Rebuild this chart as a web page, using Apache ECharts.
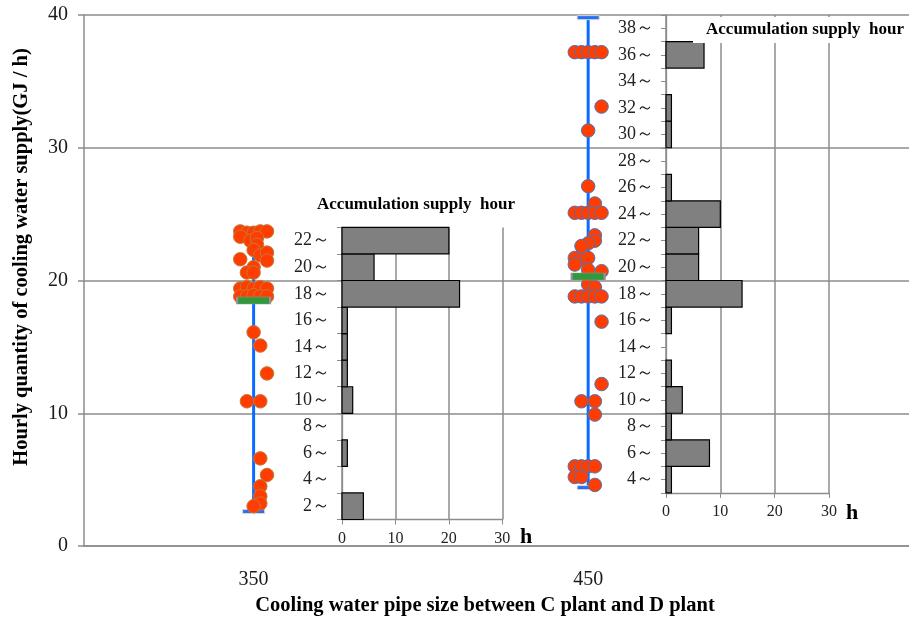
<!DOCTYPE html>
<html>
<head>
<meta charset="utf-8">
<script src="https://cdn.jsdelivr.net/npm/echarts@6/dist/echarts.min.js"></script>
<style>
  html, body { margin: 0; padding: 0; background: #fff; }
  #chart { width: 909px; height: 619px; }
</style>
</head>
<body>
<div id="chart"></div>
<script>
// Pipe sizes shown on the x axis
const pipeSizes = [350, 450];

// Hourly supply records: [pipe size with spread offset, GJ/h]
const points350 = [
  [346, 23.7], [348, 23.6], [350, 23.6], [352, 23.7], [354, 23.7],
  [346, 23.3], [349, 23.0], [351, 23.2], [351, 22.7], [350, 22.3],
  [352, 21.9], [354, 22.1], [346, 21.6], [354, 21.5], [350, 21.0],
  [348, 20.6], [350, 20.6],
  [346, 19.4], [348, 19.5], [350, 19.4], [352, 19.5], [354, 19.4],
  [346, 18.8], [348, 18.8], [350, 18.9], [352, 18.8], [354, 18.8],
  [350, 16.1], [352, 15.1], [354, 13.0], [348, 10.9], [352, 10.9],
  [352, 6.6], [354, 5.35], [352, 4.5], [352, 3.75], [352, 3.2], [350, 3.0]
];
const points450 = [
  [446, 37.2], [448, 37.2], [450, 37.2], [452, 37.2], [454, 37.2],
  [454, 33.1], [450, 31.3], [450, 27.1], [452, 25.8],
  [446, 25.1], [448, 25.1], [450, 25.1], [452, 25.1], [454, 25.1],
  [452, 23.4], [452, 23.0], [450, 22.8], [448, 22.6],
  [446, 21.7], [448, 21.6], [450, 21.7], [446, 21.2], [450, 20.8], [454, 20.7],
  [450, 19.7], [452, 19.5],
  [446, 18.8], [448, 18.8], [450, 18.8], [452, 18.8], [454, 18.8],
  [454, 16.9], [454, 12.2], [448, 10.9], [452, 10.9], [452, 9.9],
  [446, 6.0], [448, 6.0], [450, 6.0], [452, 6.0],
  [446, 5.2], [448, 5.2], [452, 4.6]
];

// Supply range (min / max) and mean per pipe size
const rangeLow = [2.6, 4.4];
const rangeHigh = [23.7, 39.8];
const meanValues = [18.5, 20.3];

// Accumulated supply hours per 2 GJ/h bin (bin lower bounds)
const binWidth = 2;
const bins350 = [2, 4, 6, 8, 10, 12, 14, 16, 18, 20, 22];
const hours350 = [4, 0, 1, 0, 2, 1, 1, 1, 22, 6, 20];
const bins450 = [4, 6, 8, 10, 12, 14, 16, 18, 20, 22, 24, 26, 28, 30, 32, 34, 36, 38];
const hours450 = [1, 8, 1, 3, 1, 0, 1, 14, 6, 6, 10, 1, 0, 1, 1, 0, 7, 0];

const hourTicks = [0, 10, 20, 30];

const SERIF = "'Liberation Serif', 'Times New Roman', serif";
const GRID_GRAY = '#8c8c8c';

const rangeData = pipeSizes.map((p, i) => [p, rangeLow[i], rangeHigh[i]]);
const meanData = pipeSizes.map((p, i) => [p, meanValues[i]]);
const hist350 = bins350.map((b, i) => [b, b + binWidth, hours350[i]]);
const hist450 = bins450.map((b, i) => [b, b + binWidth, hours450[i]]);
const binLabel = (bins) => bins.map(b => b + binWidth / 2);

function rangeItem(params, api) {
  const x = api.value(0);
  const a = api.coord([x, api.value(1)]);
  const b = api.coord([x, api.value(2)]);
  const cap = (p) => ({
    type: 'rect',
    shape: { x: p[0] - 11, y: p[1] - 2, width: 22, height: 4 },
    style: { fill: '#1f72ff', stroke: '#e3d3c8', lineWidth: 1 }
  });
  return {
    type: 'group',
    children: [
      { type: 'line', shape: { x1: a[0], y1: a[1], x2: b[0], y2: b[1] },
        style: { stroke: '#0b6bff', lineWidth: 3 } },
      cap(a), cap(b)
    ]
  };
}

function histItem(params, api) {
  const h = api.value(2);
  if (!h) return null;
  const p0 = api.coord([0, api.value(0)]);
  const p1 = api.coord([h, api.value(1)]);
  return {
    type: 'rect',
    shape: { x: p0[0], y: p1[1], width: p1[0] - p0[0], height: p0[1] - p1[1] },
    style: { fill: '#808080', stroke: '#000', lineWidth: 1.2 }
  };
}

function insetXAxis(gridIndex) {
  return {
    gridIndex, type: 'value', min: 0, max: 30, interval: 10,
    axisLine: { show: true, lineStyle: { color: GRID_GRAY, width: 1.3 } },
    axisTick: { show: true, length: 5, lineStyle: { color: GRID_GRAY } },
    splitLine: { show: true, lineStyle: { color: GRID_GRAY, width: 1.5 } },
    axisLabel: { customValues: hourTicks, fontFamily: SERIF, fontSize: 16, color: '#222', margin: 11 }
  };
}

function insetYAxis(gridIndex, bins, tickInterval) {
  const lo = bins[0], hi = bins[bins.length - 1] + binWidth;
  return {
    gridIndex, type: 'value', min: lo, max: hi, interval: tickInterval,
    axisLine: { show: true, lineStyle: { color: GRID_GRAY, width: 1.3 } },
    axisTick: { show: true, length: 5, lineStyle: { color: GRID_GRAY } },
    splitLine: { show: false },
    axisLabel: {
      customValues: binLabel(bins),
      formatter: v => (v - binWidth / 2) + '～',
      fontFamily: SERIF, fontSize: 18, color: '#222', margin: 12
    }
  };
}

const chart = echarts.init(document.getElementById('chart'));
chart.setOption({
  animation: false,
  backgroundColor: '#fff',
  grid: [
    { left: 84, top: 15, right: 0, bottom: 73 },
    { left: 342, top: 227.4, width: 160.3, bottom: 99.5 },
    { left: 666, top: 15, width: 163, bottom: 126.1 }
  ],
  xAxis: [
    {
      gridIndex: 0, type: 'value', min: 299.3, max: 545.9,
      axisLine: { show: true, lineStyle: { color: GRID_GRAY, width: 1.5 } },
      axisTick: { show: false },
      splitLine: { show: false },
      axisLabel: { customValues: pipeSizes, fontFamily: SERIF, fontSize: 20, color: '#1a1a1a', margin: 24 }
    },
    insetXAxis(1),
    insetXAxis(2)
  ],
  yAxis: [
    {
      gridIndex: 0, type: 'value', min: 0, max: 40, interval: 10,
      axisLine: { show: true, lineStyle: { color: GRID_GRAY, width: 1.5 } },
      axisTick: { show: true, length: 6, lineStyle: { color: GRID_GRAY, width: 1.5 } },
      splitLine: { show: true, lineStyle: { color: GRID_GRAY, width: 1.5 } },
      axisLabel: { fontFamily: SERIF, fontSize: 20, color: '#1a1a1a', margin: 16 }
    },
    insetYAxis(1, bins350, 2),
    insetYAxis(2, bins450, 1)
  ],
  graphic: [
    {
      type: 'text', z: 100, x: 22, y: 257, rotation: Math.PI / 2,
      style: {
        text: 'Hourly quantity of cooling water supply(GJ / h)',
        font: "bold 20.5px 'Liberation Serif'", fill: '#000',
        align: 'center', verticalAlign: 'middle'
      }
    },
    {
      type: 'text', z: 100, x: 485, y: 606,
      style: {
        text: 'Cooling water pipe size between C plant and D plant',
        font: "bold 20.5px 'Liberation Serif'", fill: '#000',
        align: 'center', verticalAlign: 'middle'
      }
    },
    { type: 'rect', z: 99, shape: { x: 306, y: 192, width: 220, height: 27 }, style: { fill: '#fff' } },
    {
      type: 'text', z: 100, x: 416, y: 205,
      style: { text: 'Accumulation supply  hour', font: "bold 17px 'Liberation Serif'", fill: '#000',
        align: 'center', verticalAlign: 'middle' }
    },
    { type: 'rect', z: 99, shape: { x: 693, y: 17, width: 216, height: 26 }, style: { fill: '#fff' } },
    {
      type: 'text', z: 100, x: 805, y: 30,
      style: { text: 'Accumulation supply  hour', font: "bold 17px 'Liberation Serif'", fill: '#000',
        align: 'center', verticalAlign: 'middle' }
    },
    {
      type: 'text', z: 100, x: 526, y: 537,
      style: { text: 'h', font: "bold 22px 'Liberation Serif'", fill: '#000', align: 'center', verticalAlign: 'middle' }
    },
    {
      type: 'text', z: 100, x: 852, y: 513,
      style: { text: 'h', font: "bold 22px 'Liberation Serif'", fill: '#000', align: 'center', verticalAlign: 'middle' }
    }
  ],
  series: [
    {
      name: 'range', type: 'custom', xAxisIndex: 0, yAxisIndex: 0, z: 2,
      renderItem: rangeItem, encode: { x: 0, y: [1, 2] }, data: rangeData
    },
    {
      name: '350', type: 'scatter', xAxisIndex: 0, yAxisIndex: 0, z: 3,
      symbol: 'circle', symbolSize: 13.5,
      itemStyle: { color: '#ff3d00', borderColor: '#c07a3c', borderWidth: 1, opacity: 1 },
      data: points350
    },
    {
      name: '450', type: 'scatter', xAxisIndex: 0, yAxisIndex: 0, z: 3,
      symbol: 'circle', symbolSize: 13.5,
      itemStyle: { color: '#ff3d00', borderColor: '#4f72b8', borderWidth: 1, opacity: 1 },
      data: points450
    },
    {
      name: 'mean', type: 'scatter', xAxisIndex: 0, yAxisIndex: 0, z: 4,
      symbol: 'rect', symbolSize: [33, 7],
      itemStyle: { color: '#2f9a3a', borderColor: '#9a8f9f', borderWidth: 1, opacity: 1 },
      data: meanData
    },
    {
      name: 'hours350', type: 'custom', xAxisIndex: 1, yAxisIndex: 1, z: 5,
      renderItem: histItem, encode: { x: 2, y: [0, 1] }, data: hist350
    },
    {
      name: 'hours450', type: 'custom', xAxisIndex: 2, yAxisIndex: 2, z: 5,
      renderItem: histItem, encode: { x: 2, y: [0, 1] }, data: hist450
    }
  ]
});
</script>
</body>
</html>
